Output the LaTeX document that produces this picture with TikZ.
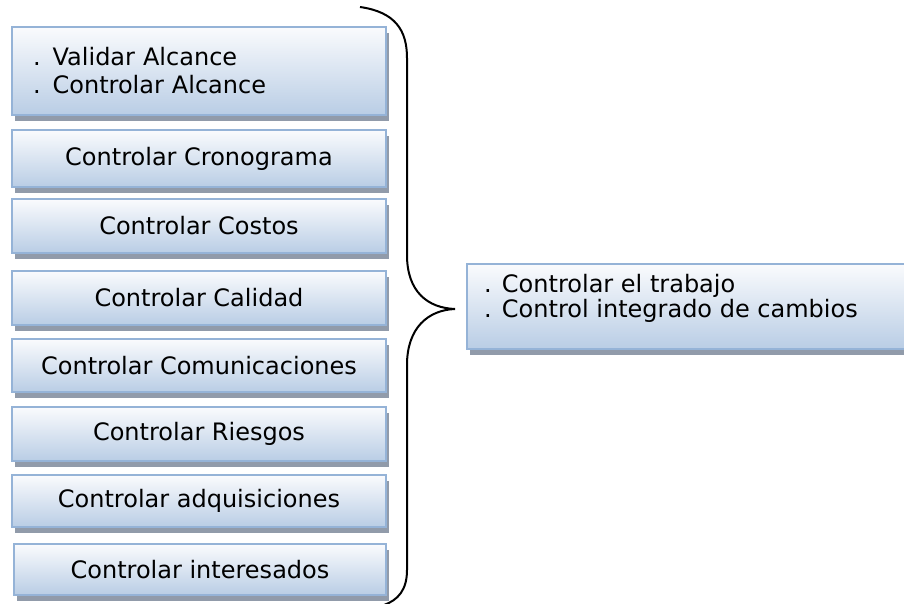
\documentclass[tikz,border=0pt]{standalone}
\usepackage{fontspec}
\setmainfont{DejaVu Sans}
\usetikzlibrary{shadows}
\definecolor{boxborder}{RGB}{149,179,215}
\definecolor{boxtop}{RGB}{250,251,253}
\definecolor{boxbottom}{RGB}{185,205,229}
\definecolor{shadowgray}{RGB}{145,155,170}
\begin{document}
\begin{tikzpicture}[x=1pt,y=-1pt,
  pbox/.style={rectangle, draw=boxborder, line width=2pt,
    top color=boxtop, bottom color=boxbottom,
    inner sep=0pt, anchor=north west,
    font=\fontsize{24}{28}\selectfont,
    drop shadow={shadow xshift=3pt, shadow yshift=-6pt, fill=shadowgray, opacity=1}},
  lbox/.style={pbox, minimum width=374pt},
  txt/.style={font=\fontsize{24}{22}\selectfont, inner sep=0pt, align=left},
  brace/.style={draw=black, line width=2pt}
]
\useasboundingbox (0,0) rectangle (904,604);
\node[lbox, minimum height=88pt, align=left, text width=332pt, inner xsep=21pt] (b1) at (11,26) {. Validar Alcance\\. Controlar Alcance};
\node[lbox, minimum height=57pt] (b2) at (11,129) {Controlar Cronograma};
\node[lbox, minimum height=54pt] (b3) at (11,198) {Controlar Costos};
\node[lbox, minimum height=54pt] (b4) at (11,270) {Controlar Calidad};
\node[lbox, minimum height=53pt] (b5) at (11,338) {Controlar Comunicaciones};
\node[lbox, minimum height=54pt] (b6) at (11,406) {Controlar Riesgos};
\node[lbox, minimum height=52pt] (b7) at (11,474) {Controlar adquisiciones};
\node[pbox, minimum width=372pt, minimum height=51pt] (b8) at (13,543) {Controlar interesados};
\node[pbox, minimum width=450pt, minimum height=85pt] (rb) at (466,263) {};
\node[txt, anchor=base west] (rbt) at (484,317) {. Controlar el trabajo\\. Control integrado de cambios};
\coordinate (tip) at (455,309);
\draw[brace] (360,7) .. controls (395,12) and (407,30) .. (407,58) -- (407,255)
  .. controls (407,292) and (428,308) .. (tip)
  .. controls (428,310) and (407,328) .. (407,365) -- (407,570)
  .. controls (407,590) and (398,600) .. (384,605);
\end{tikzpicture}
\end{document}
